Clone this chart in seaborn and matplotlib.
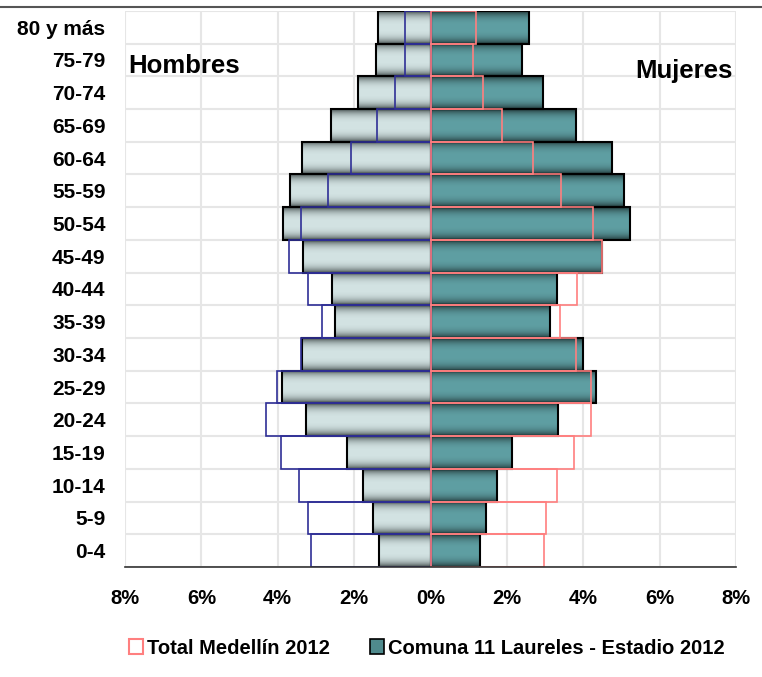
import numpy as np
import pandas as pd
import matplotlib

matplotlib.use('Agg')
import matplotlib.pyplot as plt
import seaborn as sns
from matplotlib.lines import Line2D
from matplotlib.patches import Patch
from matplotlib.ticker import FuncFormatter

# grupos de edad, de arriba hacia abajo
ages = ['80 y más', '75-79', '70-74', '65-69', '60-64', '55-59', '50-54', '45-49',
        '40-44', '35-39', '30-34', '25-29', '20-24', '15-19', '10-14', '5-9', '0-4']

# Comuna 11 Laureles - Estadio 2012 (%)
men_comuna = [1.37, 1.42, 1.90, 2.60, 3.36, 3.68, 3.85, 3.35,
              2.58, 2.51, 3.37, 3.89, 3.25, 2.19, 1.76, 1.51, 1.34]
women_comuna = [2.59, 2.39, 2.95, 3.80, 4.74, 5.07, 5.23, 4.48,
                3.32, 3.13, 4.00, 4.33, 3.35, 2.12, 1.74, 1.46, 1.30]

# Total Medellín 2012 (%)
men_medellin = [0.66, 0.68, 0.94, 1.39, 2.07, 2.68, 3.39, 3.71,
                3.22, 2.83, 3.38, 4.02, 4.30, 3.91, 3.44, 3.20, 3.12]
women_medellin = [1.18, 1.10, 1.38, 1.88, 2.68, 3.42, 4.25, 4.49,
                  3.84, 3.39, 3.81, 4.19, 4.19, 3.75, 3.32, 3.03, 2.98]

df = pd.DataFrame({
    'edad': ages,
    'h_comuna': -np.array(men_comuna),
    'm_comuna': women_comuna,
    'h_med': -np.array(men_medellin),
    'm_med': women_medellin,
})

sns.set_style('white')
plt.rcParams['font.family'] = ['Liberation Sans', 'DejaVu Sans']
plt.rcParams['font.weight'] = 'bold'
plt.rcParams['text.color'] = 'black'
plt.rcParams['xtick.labelcolor'] = 'black'
plt.rcParams['ytick.labelcolor'] = 'black'

fig = plt.figure(figsize=(7.62, 6.77), dpi=100)
ax = fig.add_axes([0.164, 0.1625, 0.802, 0.8215])


def gradient(dark, light, n=64):
    # oscuro en los bordes, claro en el centro
    t = np.abs(np.linspace(-1, 1, n)) ** 3
    d = np.array(matplotlib.colors.to_rgb(dark))
    l = np.array(matplotlib.colors.to_rgb(light))
    return (l[None, :] + (d - l)[None, :] * t[:, None])[:, None, :]


n_before = len(ax.patches)
sns.barplot(data=df, x='h_comuna', y='edad', order=ages, orient='h', width=1.0,
            color='#9fb5b5', errorbar=None, ax=ax)
n_men = len(ax.patches)
sns.barplot(data=df, x='m_comuna', y='edad', order=ages, orient='h', width=1.0,
            color='#4f8a8d', errorbar=None, ax=ax)
comuna_patches = ax.patches[n_before:]

grad_men = gradient('#4a5454', '#d3e3e3')
grad_women = gradient('#233a3b', '#5f9fa3')
for i, p in enumerate(comuna_patches):
    x0, y0, w, h = p.get_x(), p.get_y(), p.get_width(), p.get_height()
    img = grad_men if i < n_men - n_before else grad_women
    ax.imshow(img, extent=[x0, x0 + w, y0 + h, y0], aspect='auto',
              interpolation='bilinear', zorder=2)
    p.set_facecolor('none')
    p.set_edgecolor('black')
    p.set_linewidth(1.5)
    p.set_zorder(3)

sns.barplot(data=df, x='h_med', y='edad', order=ages, orient='h', width=1.0,
            fill=False, color='#2f2f96', linewidth=1.2, errorbar=None, ax=ax)
sns.barplot(data=df, x='m_med', y='edad', order=ages, orient='h', width=1.0,
            fill=False, color='#ff7f7f', linewidth=1.2, errorbar=None, ax=ax)
for p in ax.patches[n_before + len(comuna_patches):]:
    p.set_zorder(4)

ax.set_xlim(-8, 8)
ax.set_ylim(len(ages) - 0.5, -0.5)
ax.set_xticks(np.arange(-8, 9, 2))
ax.xaxis.set_major_formatter(FuncFormatter(lambda v, _: f'{abs(v):.0f}%'))
ax.set_yticks(range(len(ages)))
ax.set_yticks(np.arange(-0.5, len(ages), 1), minor=True)
ax.set_xlabel('')
ax.set_ylabel('')

ax.grid(True, axis='x', which='major', color='#e6e6e6', linewidth=1.5, zorder=0)
ax.grid(True, axis='y', which='minor', color='#e6e6e6', linewidth=1.5, zorder=0)
ax.grid(False, axis='y', which='major')
ax.set_axisbelow(True)

for s in ['top', 'right', 'left']:
    ax.spines[s].set_visible(False)
ax.spines['bottom'].set_color('#333333')
ax.spines['bottom'].set_linewidth(1.2)
ax.spines['bottom'].set_zorder(5)

ax.tick_params(axis='x', which='major', direction='out', length=6, width=1.2,
               color='#333333', pad=10, labelsize=14.5)
ax.tick_params(axis='y', which='both', length=0, pad=14, labelsize=15)
for lbl in ax.get_xticklabels() + ax.get_yticklabels():
    lbl.set_fontweight('bold')

fig.text(128 / 762, 1 - 73 / 677, 'Hombres', fontsize=18.5, fontweight='bold',
         ha='left', va='baseline')
fig.text(733 / 762, 1 - 78 / 677, 'Mujeres', fontsize=18.5, fontweight='bold',
         ha='right', va='baseline')

# linea superior
fig.add_artist(Line2D([0, 1], [1 - 7 / 677, 1 - 7 / 677], transform=fig.transFigure,
                      color='#555555', linewidth=1.5))

handles = [Patch(facecolor='white', edgecolor='#ff7f7f', linewidth=1.5),
           Patch(facecolor='#4f8a8d', edgecolor='black', linewidth=1.2)]
fig.legend(handles, ['Total Medellín 2012', 'Comuna 11 Laureles - Estadio 2012'],
           loc='center', bbox_to_anchor=(427 / 762, 1 - 648 / 677), ncol=2,
           frameon=False, handlelength=0.7, handleheight=0.7, handletextpad=0.2,
           columnspacing=2.0, prop={'size': 14.5, 'weight': 'bold'})

fig.savefig('out.png', dpi=100, facecolor='white')
